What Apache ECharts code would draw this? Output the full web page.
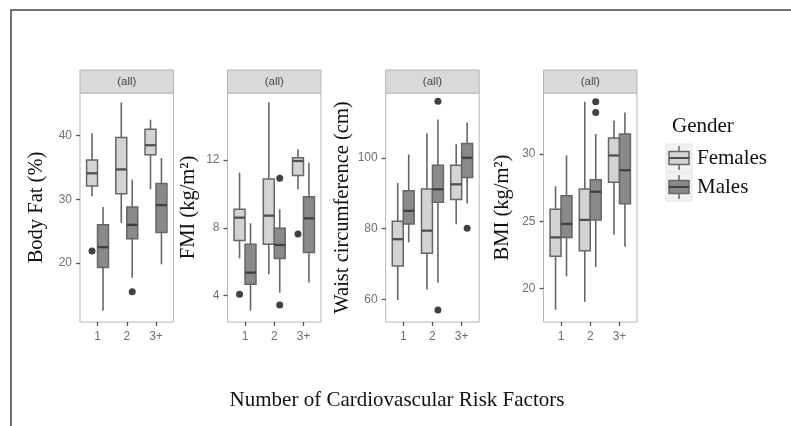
<!DOCTYPE html>
<html><head><meta charset="utf-8">
<script src="https://cdn.jsdelivr.net/npm/echarts@6/dist/echarts.min.js"></script>
<style>html,body{margin:0;padding:0;background:#fff}#c{width:791px;height:426px}</style>
</head><body><div id="c"></div>
<script>
const categories = ['1', '2', '3+'];
const genders = ['Females', 'Males'];
const panelTitles = ['Body Fat (%)', 'FMI (kg/m²)', 'Waist circumference (cm)', 'BMI (kg/m²)'];
const stripLabel = '(all)';
const xTitle = 'Number of Cardiovascular Risk Factors';
const legendTitle = 'Gender';
const yTicks = [[20, 30, 40], [4, 8, 12], [60, 80, 100], [20, 25, 30]];
const yRanges = [[10.75, 46.7], [2.45, 15.95], [53.6, 118.3], [17.5, 34.55]];

// [min, q1, median, q3, max] per category
const bodyFatFemales = [[30.5, 32.1, 34.1, 36.2, 40.4], [26.3, 30.9, 34.7, 39.7, 45.2], [31.6, 37.0, 38.5, 41.0, 42.5]];
const bodyFatMales = [[12.5, 19.3, 22.5, 26.0, 28.8], [17.7, 23.8, 26.0, 28.8, 33.1], [19.8, 24.8, 29.1, 32.5, 36.5]];
const fmiFemales = [[6.2, 7.25, 8.6, 9.1, 11.25], [5.26, 7.03, 8.72, 10.88, 15.4], [10.27, 11.08, 11.94, 12.14, 12.63]];
const fmiMales = [[3.12, 4.67, 5.36, 7.03, 8.27], [4.18, 6.2, 6.99, 7.97, 9.1], [4.77, 6.54, 8.56, 9.84, 11.84]];
const waistFemales = [[59.8, 69.4, 77.0, 82.1, 92.9], [62.8, 73.0, 79.4, 91.2, 106.9], [81.2, 88.2, 92.5, 97.9, 103.8]];
const waistMales = [[76.1, 81.3, 85.0, 90.7, 100.9], [64.7, 87.4, 91.1, 97.9, 110.8], [87.1, 94.4, 100.0, 104.0, 109.9]];
const bmiFemales = [[18.4, 22.4, 23.8, 25.9, 27.6], [19.0, 22.8, 25.1, 27.4, 33.9], [24.0, 27.9, 29.9, 31.2, 32.5]];
const bmiMales = [[20.9, 23.8, 24.8, 26.9, 29.9], [21.6, 25.1, 27.2, 28.1, 31.5], [23.1, 26.3, 28.8, 31.5, 33.1]];

// outliers: [category index, value]
const bodyFatFemalesOut = [[0, 21.9]];
const bodyFatMalesOut = [[1, 15.5]];
const fmiFemalesOut = [[0, 4.08], [2, 7.64]];
const fmiMalesOut = [[1, 10.92], [1, 3.45]];
const waistFemalesOut = [];
const waistMalesOut = [[1, 116.0], [1, 57.0], [2, 80.1]];
const bmiFemalesOut = [];
const bmiMalesOut = [[1, 33.9], [1, 33.1]];

const panels = [
  { f: bodyFatFemales, m: bodyFatMales, fo: bodyFatFemalesOut, mo: bodyFatMalesOut },
  { f: fmiFemales, m: fmiMales, fo: fmiFemalesOut, mo: fmiMalesOut },
  { f: waistFemales, m: waistMales, fo: waistFemalesOut, mo: waistMalesOut },
  { f: bmiFemales, m: bmiMales, fo: bmiFemalesOut, mo: bmiMalesOut }
];

// layout & style
const panelLeft = [80, 227.5, 385.7, 543.5];
const panelW = 93.5, panelTop = 93, panelH = 229;
const nameGaps = [33, 28, 33, 30];
const FILL = ['#d3d3d3', '#8a8a8a'];
const STROKE = '#666666';
const MEDIAN = ['#505050', '#404040'];
const BOX_W = 0.375, DODGE = 0.1875;
const SERIF = 'Liberation Serif';
const SANS = 'Liberation Sans';

function boxRender(g) {
  const off = g === 0 ? -DODGE : DODGE;
  return function (params, api) {
    const x = api.value(0) + off;
    const pMin = api.coord([x, api.value(1)]);
    const pQ1 = api.coord([x, api.value(2)]);
    const pMed = api.coord([x, api.value(3)]);
    const pQ3 = api.coord([x, api.value(4)]);
    const pMax = api.coord([x, api.value(5)]);
    const w = api.size([BOX_W, 0])[0];
    const ls = { stroke: STROKE, lineWidth: 1.6 };
    return {
      type: 'group', children: [
        { type: 'line', shape: { x1: pMin[0], y1: pMin[1], x2: pQ1[0], y2: pQ1[1] }, style: ls },
        { type: 'line', shape: { x1: pQ3[0], y1: pQ3[1], x2: pMax[0], y2: pMax[1] }, style: ls },
        { type: 'rect', shape: { x: pQ3[0] - w / 2, y: pQ3[1], width: w, height: pQ1[1] - pQ3[1] },
          style: { fill: FILL[g], stroke: STROKE, lineWidth: 1.5 } },
        { type: 'line', shape: { x1: pMed[0] - w / 2, y1: pMed[1], x2: pMed[0] + w / 2, y2: pMed[1] },
          style: { stroke: MEDIAN[g], lineWidth: 2.3 } }
      ]
    };
  };
}

const grid = [], xAxis = [], yAxis = [], series = [], graphic = [];
panels.forEach((p, i) => {
  grid.push({ left: panelLeft[i], top: panelTop, width: panelW, height: panelH,
    show: true, borderColor: '#b5b5b5', borderWidth: 1, backgroundColor: '#fff' });
  xAxis.push({
    type: 'value', gridIndex: i, min: 0.4, max: 3.6,
    axisLine: { show: false }, splitLine: { show: false },
    axisTick: { show: true, length: 4, customValues: [1, 2, 3], lineStyle: { color: '#555', width: 1.3 } },
    axisLabel: { customValues: [1, 2, 3], formatter: v => categories[Math.round(v) - 1],
      color: '#707070', fontFamily: SANS, fontSize: 12, margin: 9 }
  });
  yAxis.push({
    type: 'value', gridIndex: i, min: yRanges[i][0], max: yRanges[i][1],
    name: panelTitles[i], nameLocation: 'middle', nameGap: nameGaps[i],
    nameTextStyle: { fontFamily: SERIF, fontSize: 20.5, color: '#111' },
    axisLine: { show: false }, splitLine: { show: false },
    axisTick: { show: true, length: 4, customValues: yTicks[i], lineStyle: { color: '#555', width: 1.3 } },
    axisLabel: { customValues: yTicks[i], color: '#707070', fontFamily: SANS, fontSize: 12, margin: 8 }
  });
  [p.f, p.m].forEach((arr, g) => {
    series.push({
      type: 'custom', name: genders[g], xAxisIndex: i, yAxisIndex: i,
      renderItem: boxRender(g),
      encode: { x: 0, y: [1, 2, 3, 4, 5] },
      data: arr.map((b, k) => [k + 1].concat(b)), z: 2
    });
  });
  [p.fo, p.mo].forEach((arr, g) => {
    series.push({
      type: 'scatter', name: genders[g] + ' outliers', xAxisIndex: i, yAxisIndex: i,
      symbolSize: 7, itemStyle: { color: '#111' }, z: 3,
      data: arr.map(o => [o[0] + 1 + (g === 0 ? -DODGE : DODGE), o[1]])
    });
  });
  graphic.push({ type: 'rect', shape: { x: panelLeft[i], y: 70, width: panelW, height: 23 },
    style: { fill: '#d9d9d9', stroke: '#b5b5b5', lineWidth: 1 } });
  graphic.push({ type: 'text', x: panelLeft[i] + panelW / 2, y: 82,
    style: { text: stripLabel, fontFamily: SANS, fontSize: 11.5, fill: '#444', align: 'center', verticalAlign: 'middle' } });
});

// frame
graphic.push({ type: 'polyline', shape: { points: [[11, 426], [11, 10], [791, 10]] },
  style: { stroke: '#444', lineWidth: 1.5, fill: null } });
// x title
graphic.push({ type: 'text', x: 397, y: 400,
  style: { text: xTitle, fontFamily: SERIF, fontSize: 21, fill: '#111', align: 'center', verticalAlign: 'middle' } });
// legend
graphic.push({ type: 'text', x: 672, y: 126,
  style: { text: legendTitle, fontFamily: SERIF, fontSize: 21, fill: '#111', align: 'left', verticalAlign: 'middle' } });
[158, 187].forEach((cy, g) => {
  graphic.push({ type: 'rect', shape: { x: 666, y: cy - 14, width: 26, height: 28 },
    style: { fill: '#f2f2f2', stroke: '#e4e4e4', lineWidth: 1 } });
  graphic.push({ type: 'line', shape: { x1: 679, y1: cy - 12, x2: 679, y2: cy + 12 },
    style: { stroke: STROKE, lineWidth: 1.5 } });
  graphic.push({ type: 'rect', shape: { x: 669, y: cy - 6.5, width: 20, height: 13 },
    style: { fill: FILL[g], stroke: STROKE, lineWidth: 1.5 } });
  graphic.push({ type: 'line', shape: { x1: 669, y1: cy, x2: 689, y2: cy },
    style: { stroke: MEDIAN[g], lineWidth: 2 } });
  graphic.push({ type: 'text', x: 697, y: cy,
    style: { text: genders[g], fontFamily: SERIF, fontSize: 21, fill: '#111', align: 'left', verticalAlign: 'middle' } });
});

const chart = echarts.init(document.getElementById('c'));
chart.setOption({ backgroundColor: '#fff', animation: false, grid, xAxis, yAxis, series, graphic });
</script>
</body></html>
